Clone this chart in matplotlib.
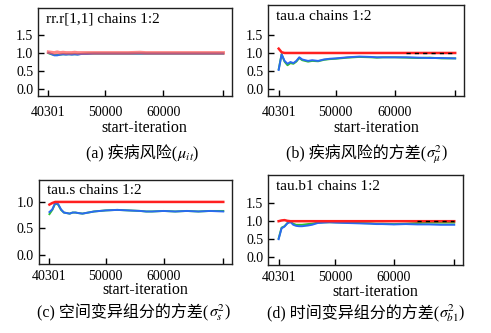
import numpy as np
import matplotlib
matplotlib.use("Agg")
import matplotlib.pyplot as plt

plt.rcParams['font.family'] = ['Liberation Serif', 'Noto Sans CJK SC', 'DejaVu Sans']
plt.rcParams['mathtext.fontset'] = 'stix'

# start-iteration grid (shared by all panels)
iters = [40301, 40800, 41300, 41800, 42300, 42800, 43300, 43800, 44300, 44800,
         45300, 46000, 47000, 48000, 49000, 50000, 52000, 54000, 56000, 57000,
         58000, 60000, 62000, 64000, 66000, 68000, 70300]

# (a) rr.r[1,1]
a_red = [1.02, 1.01, 1.00, 1.02, 1.00, 1.01, 1.00, 1.00, 1.00, 1.01, 1.00, 1.00, 1.00, 1.00,
         1.00, 1.00, 1.00, 1.00, 1.01, 1.00, 1.00, 1.00, 1.00, 1.00, 1.00, 1.00, 1.00]
a_green = [0.99, 0.96, 0.94, 0.94, 0.95, 0.96, 0.96, 0.96, 0.96, 0.96, 0.96, 0.97, 0.98, 0.98,
           0.98, 0.98, 0.98, 0.98, 0.98, 0.98, 0.98, 0.98, 0.98, 0.98, 0.98, 0.98, 0.98]
a_blue = [1.00, 0.97, 0.93, 0.93, 0.95, 0.96, 0.95, 0.96, 0.95, 0.96, 0.95, 0.97, 0.97, 0.98,
          0.98, 0.98, 0.98, 0.98, 0.98, 0.98, 0.98, 0.98, 0.98, 0.98, 0.98, 0.98, 0.98]

# (b) tau.a
b_red = [1.12, 1.02, 1.00, 1.00, 1.00, 1.00, 1.00, 1.00, 1.00, 1.00, 1.00, 1.00, 1.00, 1.00,
         1.00, 1.00, 1.00, 1.00, 1.00, 1.00, 1.00, 1.00, 1.00, 1.00, 1.00, 1.00, 1.00]
b_green = [0.55, 0.97, 0.76, 0.66, 0.72, 0.70, 0.76, 0.86, 0.80, 0.78, 0.76, 0.78, 0.77, 0.81,
           0.83, 0.84, 0.87, 0.89, 0.88, 0.87, 0.88, 0.88, 0.87, 0.86, 0.87, 0.85, 0.85]
b_blue = [0.53, 0.96, 0.78, 0.70, 0.75, 0.72, 0.78, 0.88, 0.82, 0.80, 0.78, 0.80, 0.78, 0.82,
          0.84, 0.85, 0.88, 0.90, 0.89, 0.88, 0.88, 0.88, 0.88, 0.87, 0.86, 0.86, 0.85]

# (c) tau.s
c_red = [0.95, 0.98, 1.00, 1.00, 1.00, 1.00, 1.00, 1.00, 1.00, 1.00, 1.00, 1.00, 1.00, 1.00,
         1.00, 1.00, 1.00, 1.00, 1.00, 1.00, 1.00, 1.00, 1.00, 1.00, 1.00, 1.00, 1.00]
c_green = [0.77, 0.85, 0.97, 0.95, 0.85, 0.80, 0.79, 0.78, 0.80, 0.80, 0.79, 0.78, 0.80, 0.82,
           0.83, 0.84, 0.85, 0.84, 0.83, 0.82, 0.82, 0.83, 0.82, 0.83, 0.82, 0.83, 0.83]
c_blue = [0.81, 0.86, 0.98, 0.96, 0.86, 0.80, 0.79, 0.78, 0.80, 0.80, 0.79, 0.78, 0.80, 0.82,
          0.83, 0.84, 0.85, 0.84, 0.83, 0.82, 0.82, 0.83, 0.82, 0.83, 0.82, 0.83, 0.82]

# (d) tau.b1
d_red = [1.00, 1.02, 1.03, 1.01, 1.00, 1.00, 1.00, 1.00, 1.00, 1.00, 1.00, 1.00, 1.00, 1.00,
         1.00, 1.00, 1.00, 1.00, 1.00, 1.00, 1.00, 1.00, 1.00, 1.00, 1.00, 1.00, 1.00]
d_green = [0.52, 0.82, 0.86, 0.95, 0.98, 0.93, 0.90, 0.90, 0.90, 0.91, 0.92, 0.93, 0.96, 0.97,
           0.97, 0.97, 0.96, 0.95, 0.94, 0.93, 0.93, 0.92, 0.93, 0.95, 0.96, 0.96, 0.96]
d_blue = [0.50, 0.80, 0.85, 0.94, 0.98, 0.90, 0.87, 0.86, 0.86, 0.87, 0.88, 0.90, 0.95, 0.96,
          0.97, 0.96, 0.95, 0.94, 0.93, 0.92, 0.92, 0.91, 0.92, 0.91, 0.91, 0.90, 0.90]

titles = ["rr.r[1,1] chains 1:2", "tau.a chains 1:2", "tau.s chains 1:2", "tau.b1 chains 1:2"]
# captions: plain (Chinese) part + math part, drawn as two texts sharing a baseline
cap_text = ["(a) 疾病风险(", "(b) 疾病风险的方差(", "(c) 空间变异组分的方差(", "(d) 时间变异组分的方差("]
cap_math = [r"$\mu_{it}$)", r"$\sigma_{\mu}^{2}$)", r"$\sigma_{s}^{2}$)", r"$\sigma_{b1}^{2}$)"]
xticks = [40301, 50000, 60000, 70300]
xticklabels = ["40301", "50000", "60000", ""]

# red, green, blue, axes rect, ylim, yticks, dashed-from, x tick pad, xlabel y,
# caption centre/baseline in pixels
panels = [
    (a_red, a_green, a_blue, [0.0774, 0.712, 0.395, 0.264], (-0.2, 2.25), [0.0, 0.5, 1.0, 1.5],
     None, 7, -0.36, (143, 158)),
    (b_red, b_green, b_blue, [0.546, 0.712, 0.399, 0.273], (-0.19, 2.33), [0.0, 0.5, 1.0, 1.5],
     62000, 7, -0.35, (367, 158)),
    (c_red, c_green, c_blue, [0.0794, 0.207, 0.393, 0.252], (-0.17, 1.41), [0.0, 0.5, 1.0],
     None, 4.5, -0.31, (134, 317)),
    (d_red, d_green, d_blue, [0.546, 0.204, 0.397, 0.270], (-0.22, 2.28), [0.0, 0.5, 1.0, 1.5],
     64000, 4.5, -0.30, (366, 318)),
]

W, H = 491, 333
fig = plt.figure(figsize=(W / 100, H / 100), dpi=100)
caps = []
for i, (red, green, blue, pos, ylim, yticks, dash_from, xpad, xl_y, cap_px) in enumerate(panels):
    ax = fig.add_axes(pos)
    x = np.array(iters)
    ax.plot(x, green, color='#30c030', lw=1.4)
    ax.plot(x, blue, color='#2a6af0', lw=1.4)
    if i == 0:
        ax.plot(x, red, color='#ff5050', lw=2.5, alpha=0.7)
    else:
        ax.plot(x, red, color='#ff2020', lw=1.8)
    if dash_from is not None:
        ax.plot([dash_from, 70300], [1.0, 1.0], color='black', lw=1.0, ls=(0, (3, 3)))
    ax.set_xlim(38500, 71800)
    ax.set_ylim(*ylim)
    ax.set_yticks(yticks)
    ax.set_yticklabels([f"{v:.1f}" for v in yticks])
    ax.set_xticks(xticks)
    ax.set_xticklabels(xticklabels)
    ax.tick_params(direction='in', length=4, width=1, labelsize=10)
    ax.tick_params(axis='x', pad=xpad)
    ax.tick_params(axis='y', pad=3.5)
    for s in ax.spines.values():
        s.set_color('#202020')
        s.set_linewidth(1.0)
    ax.text(0.04, 0.95, titles[i], transform=ax.transAxes, ha='left', va='top', fontsize=11)
    ax.text(0.55, xl_y, "start-iteration", transform=ax.transAxes, ha='center', va='center',
            fontsize=11.5)
    t1 = fig.text(0, 0, cap_text[i], ha='right', va='baseline', fontsize=11.5)
    t2 = fig.text(0, 0, cap_math[i], ha='left', va='baseline', fontsize=11.5)
    caps.append((t1, t2, cap_px))

# centre each two-part caption on its target point
fig.canvas.draw()
r = fig.canvas.get_renderer()
for t1, t2, (cx, by) in caps:
    w1 = t1.get_window_extent(r).width
    w2 = t2.get_window_extent(r).width
    split = cx - (w1 + w2) / 2 + w1
    for t in (t1, t2):
        t.set_position((split / W, 1 - by / H))

fig.savefig("out.png", dpi=100)
